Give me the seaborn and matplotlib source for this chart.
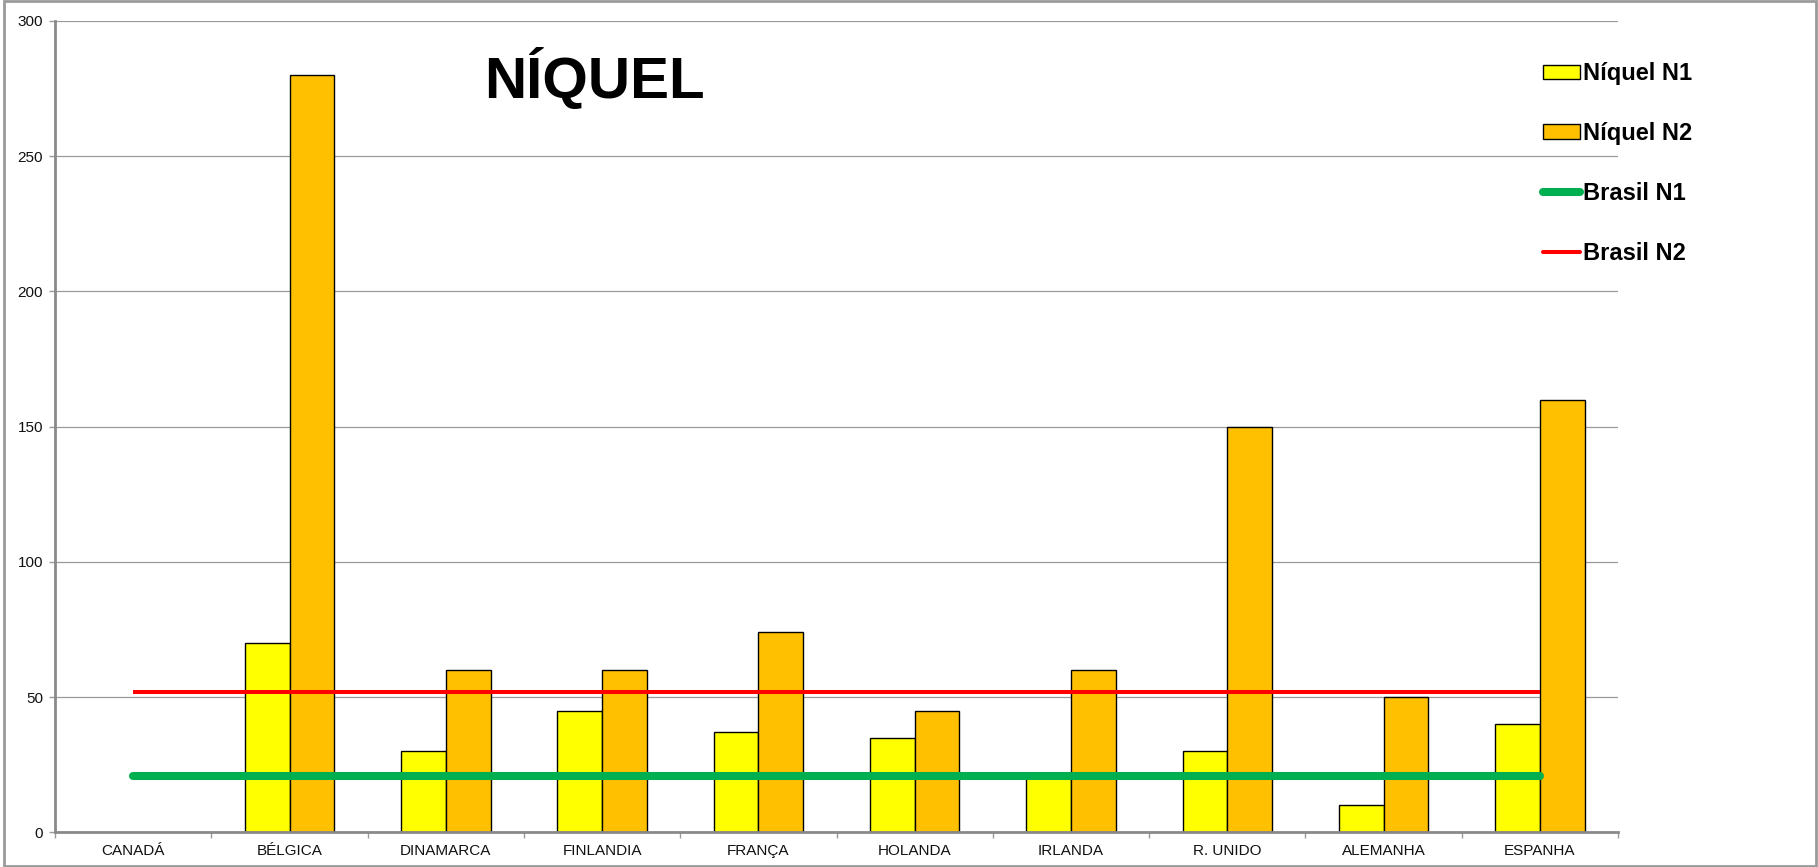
import matplotlib

matplotlib.use("Agg")

import matplotlib.pyplot as plt
import numpy as np
import pandas as pd
import seaborn as sns
from matplotlib.lines import Line2D
from matplotlib.patches import Patch, Rectangle
from matplotlib.ticker import FixedLocator, MultipleLocator

countries = ["CANADÁ", "BÉLGICA", "DINAMARCA", "FINLANDIA", "FRANÇA",
             "HOLANDA", "IRLANDA", "R. UNIDO", "ALEMANHA", "ESPANHA"]
niquel_n1 = [np.nan, 70, 30, 45, 37, 35, 21, 30, 10, 40]
niquel_n2 = [np.nan, 280, 60, 60, 74, 45, 60, 150, 50, 160]
brasil_n1 = 21
brasil_n2 = 52
series_names = ["Níquel N1", "Níquel N2"]
line_names = ["Brasil N1", "Brasil N2"]

bar_colors = ["#FFFF00", "#FFC000"]
green = "#00B050"
red = "#FF0000"

df = pd.DataFrame({
    "pais": countries * 2,
    "valor": niquel_n1 + niquel_n2,
    "serie": [series_names[0]] * len(countries) + [series_names[1]] * len(countries),
})

sns.set_style("white")
plt.rcParams["font.family"] = ["Liberation Sans", "DejaVu Sans"]
plt.rcParams["text.color"] = "black"

fig = plt.figure(figsize=(18.18, 8.67), dpi=100)
ax = fig.add_axes([0.0303, 0.0398, 0.8597, 0.936])

sns.barplot(
    data=df, x="pais", y="valor", hue="serie", order=countries,
    hue_order=series_names, palette=bar_colors, saturation=1, width=0.572, gap=0,
    edgecolor="black", linewidth=1.0, legend=False, ax=ax, zorder=2,
)

xs = np.arange(len(countries))
ax.plot([xs[0], xs[-1]], [brasil_n1, brasil_n1], color=green, lw=5.8,
        solid_capstyle="round", zorder=4)
ax.plot([xs[0], xs[-1]], [brasil_n2, brasil_n2], color=red, lw=2.9,
        solid_capstyle="butt", zorder=4)

ax.set_xlim(-0.5, len(countries) - 0.5)
ax.set_ylim(0, 300)
ax.yaxis.set_major_locator(MultipleLocator(50))
ax.grid(axis="y", color="#9a9a9a", lw=0.9, zorder=0)
ax.set_axisbelow(True)
ax.set_xlabel("")
ax.set_ylabel("")

for side in ["top", "right"]:
    ax.spines[side].set_visible(False)
for side in ["left", "bottom"]:
    ax.spines[side].set_color("#8a8a8a")
    ax.spines[side].set_linewidth(2.0)

ax.xaxis.set_minor_locator(FixedLocator(np.arange(len(countries) + 1) - 0.5))
ax.tick_params(axis="x", which="major", length=0, pad=8, labelsize=11, labelcolor="#111111")
ax.tick_params(axis="x", which="minor", length=4, width=1, color="#9a9a9a", direction="out", bottom=True)
ax.tick_params(axis="y", which="major", length=4.3, width=1, color="#9a9a9a", direction="out",
               pad=4.3, labelsize=11, labelcolor="#111111", left=True)

fig.text(0.327, 0.887, "NÍQUEL", fontsize=42, fontweight="bold", color="black",
         ha="center", va="baseline")

handles = [
    Patch(facecolor=bar_colors[0], edgecolor="black", lw=1.0),
    Patch(facecolor=bar_colors[1], edgecolor="black", lw=1.0),
    Line2D([], [], color=green, lw=5.8, solid_capstyle="round"),
    Line2D([], [], color=red, lw=2.9),
]
leg = fig.legend(
    handles, series_names + line_names, loc="upper left",
    bbox_to_anchor=(0.8425, 0.942), frameon=False, borderpad=0,
    handlelength=1.55, handleheight=0.55, handletextpad=0.12, labelspacing=1.56,
    prop={"size": 17, "weight": "bold"},
)
for t in leg.get_texts():
    t.set_color("black")

fig.patches.append(Rectangle((4 / 1818, 1 / 867), 1812 / 1818, 865 / 867,
                             transform=fig.transFigure, fill=False,
                             edgecolor="#9a9a9a", lw=2.0))

fig.savefig("out.png", dpi=100)
